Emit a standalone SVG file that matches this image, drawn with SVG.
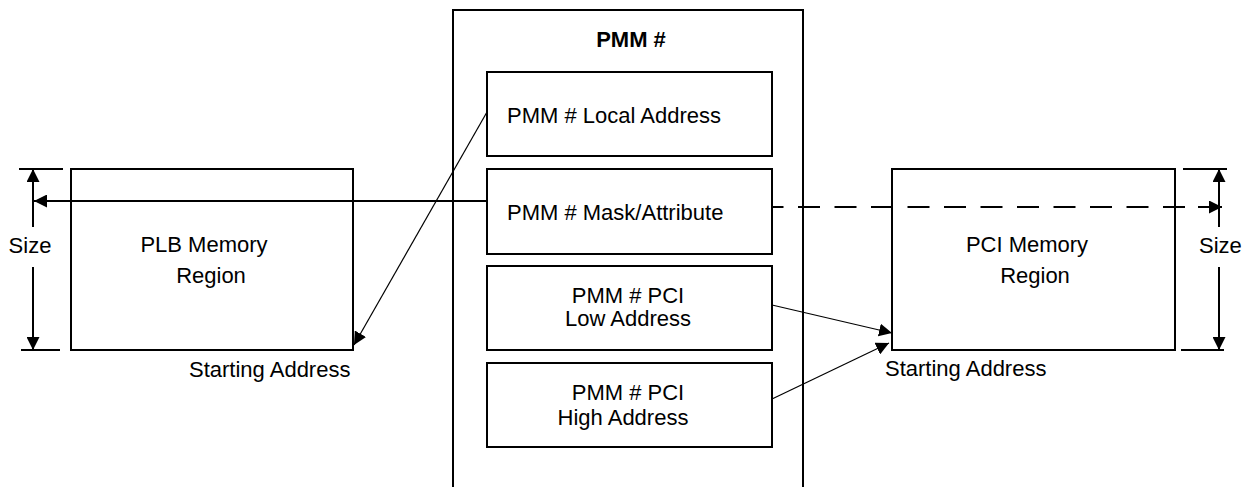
<svg xmlns="http://www.w3.org/2000/svg" width="1248" height="487" viewBox="0 0 1248 487">
<style>
  .box { fill: none; stroke: #000; stroke-width: 2; }
  .t { font-family: "Liberation Sans", Arial, sans-serif; font-size: 22px; fill: #000; }
  .c { text-anchor: middle; }
  .b { font-weight: bold; }
  .ln { stroke: #000; stroke-width: 2; fill: none; }
  .thin { stroke: #000; stroke-width: 1.2; fill: none; }
  .dash { stroke: #000; stroke-width: 2; fill: none; stroke-dasharray: 22 14.5; }
</style>
<defs>
  <marker id="ah" markerUnits="userSpaceOnUse" markerWidth="14" markerHeight="13" refX="13" refY="6.5" orient="auto">
    <path d="M0,0 L13,6.5 L0,13 z" fill="#000"/>
  </marker>
</defs>
<rect width="1248" height="487" fill="#fff"/>

<g id="pmm">
  <path class="box" d="M453,490 V10 H803 V490"/>
  <text class="t c b" x="631" y="47">PMM #</text>
</g>
<g id="local-address">
  <rect class="box" x="487" y="72" width="285" height="84"/>
  <text class="t" x="507" y="123">PMM # Local Address</text>
</g>
<g id="mask-attribute">
  <rect class="box" x="487" y="169" width="285" height="85"/>
  <text class="t" x="507" y="220">PMM # Mask/Attribute</text>
</g>
<g id="pci-low">
  <rect class="box" x="487" y="266" width="285" height="84"/>
  <text class="t c" x="628" y="303">PMM # PCI</text>
  <text class="t c" x="628" y="326">Low Address</text>
</g>
<g id="pci-high">
  <rect class="box" x="487" y="363" width="285" height="84"/>
  <text class="t c" x="628" y="400">PMM # PCI</text>
  <text class="t c" x="623" y="425">High Address</text>
</g>
<g id="plb-region">
  <rect class="box" x="71" y="169" width="282" height="181"/>
  <text class="t c" x="204" y="252">PLB Memory</text>
  <text class="t c" x="211" y="283">Region</text>
  <text class="t" x="189" y="377">Starting Address</text>
  <text class="t c" x="30" y="253">Size</text>
</g>
<g id="pci-region">
  <rect class="box" x="892" y="169" width="283" height="181"/>
  <text class="t c" x="1027" y="252">PCI Memory</text>
  <text class="t c" x="1035" y="283">Region</text>
  <text class="t" x="885" y="376">Starting Address</text>
  <text class="t" x="1199" y="253">Size</text>
</g>

<g id="connectors">
  <!-- left size dimension -->
  <line class="ln" x1="19" y1="169" x2="63" y2="169"/>
  <line class="ln" x1="21" y1="350" x2="60" y2="350"/>
  <line class="ln" x1="33" y1="227" x2="33" y2="169" marker-end="url(#ah)"/>
  <line class="ln" x1="33" y1="267" x2="33" y2="350" marker-end="url(#ah)"/>
  <!-- right size dimension -->
  <line class="ln" x1="1183" y1="169" x2="1227" y2="169"/>
  <line class="ln" x1="1181" y1="350" x2="1224" y2="350"/>
  <line class="ln" x1="1219" y1="227" x2="1219" y2="169" marker-end="url(#ah)"/>
  <line class="ln" x1="1219" y1="267" x2="1219" y2="350" marker-end="url(#ah)"/>
  <!-- mask/attribute to PLB size -->
  <line class="ln" x1="487" y1="201" x2="34" y2="201" marker-end="url(#ah)"/>
  <!-- mask/attribute to PCI size (dashed) -->
  <line class="dash" x1="772" y1="207" x2="1198" y2="207" stroke-dashoffset="10.5"/>
  <line class="ln" x1="1198" y1="207" x2="1222" y2="207" marker-end="url(#ah)"/>
  <!-- local address to PLB starting address -->
  <line class="thin" x1="487" y1="112" x2="354" y2="345" marker-end="url(#ah)"/>
  <!-- PCI low/high to PCI starting address -->
  <line class="thin" x1="772" y1="305" x2="892" y2="333" marker-end="url(#ah)"/>
  <line class="thin" x1="772" y1="399" x2="889" y2="343" marker-end="url(#ah)"/>
</g>
</svg>
